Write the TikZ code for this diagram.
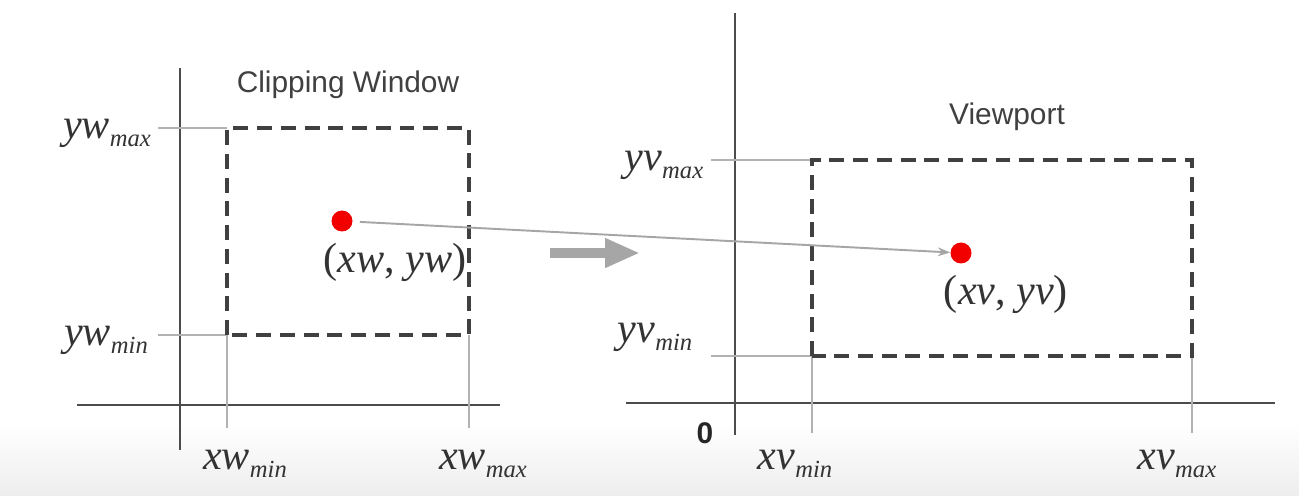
\documentclass[tikz,border=0pt]{standalone}
\usepackage{fontspec}
\setmainfont{Liberation Serif}
\newfontfamily\arialfont{Liberation Sans}
\usetikzlibrary{arrows.meta}

% italic label with a lowered subscript
\newcommand{\limlbl}[2]{\textit{#1}\raisebox{-4.5pt}{\fontsize{14}{14}\selectfont\textit{#2}}}

\tikzset{
  axis/.style={line width=1.6pt, draw=black!70},
  guide/.style={line width=0.8pt, draw=black!30},
  window/.style={line width=1.9pt, draw=black!75, dash pattern=on 8.5pt off 5pt},
  dot/.style={circle, fill=red!95!black, draw=none, inner sep=0pt, minimum size=0.42cm},
  lbl/.style={font=\fontsize{24}{24}\selectfont, text=black!80, inner sep=0pt},
  title/.style={font=\arialfont\fontsize{17}{17}\selectfont, text=black!75, inner sep=0pt}
}

\begin{document}
\begin{tikzpicture}[x=0.02cm, y=-0.02cm]
    \useasboundingbox (0,0) rectangle (1299,496);
    \shade[top color=white, bottom color=black!7] (0,425) rectangle (1299,496);

    % clipping window side
    \coordinate (wxl) at (77,405);
    \coordinate (wxr) at (500,405);
    \coordinate (wyt) at (180,68);
    \coordinate (wyb) at (180,450);
    \draw[axis] (wxl) -- (wxr);
    \draw[axis] (wyb) -- (wyt);

    \coordinate (wmin) at (227,335);
    \coordinate (wmax) at (469,128);
    \draw[guide] (158,128) -- (227,128);
    \draw[guide] (158,335) -- (wmin);
    \draw[guide] (wmin) -- (227,428);
    \draw[guide] (469,335) -- (469,428);
    \draw[window] (wmin) rectangle (wmax);

    \node[lbl] (ywmax) at (107,133) {\limlbl{yw}{max}};
    \node[lbl] (ywmin) at (106,340) {\limlbl{yw}{min}};
    \node[lbl] (xwmin) at (245,464) {\limlbl{xw}{min}};
    \node[lbl] (xwmax) at (483,464) {\limlbl{xw}{max}};
    \node[title] (cwin) at (348,85) {Clipping Window};

    \node[dot] (pw) at (342,221) {};
    \node[lbl] (pwlbl) at (395,262) {(\textit{xw}, \textit{yw})};

    % viewport side
    \coordinate (vxl) at (626,403);
    \coordinate (vxr) at (1275,403);
    \coordinate (vyt) at (735,13);
    \coordinate (vyb) at (735,435);
    \draw[axis] (vxl) -- (vxr);
    \draw[axis] (vyb) -- (vyt);

    \coordinate (vmin) at (812,356);
    \coordinate (vmax) at (1192,160);
    \draw[guide] (711,160) -- (812,160);
    \draw[guide] (711,356) -- (vmin);
    \draw[guide] (vmin) -- (812,433);
    \draw[guide] (1192,356) -- (1192,433);
    \draw[window] (vmin) rectangle (vmax);

    \node[lbl] (yvmax) at (664,165) {\limlbl{yv}{max}};
    \node[lbl] (yvmin) at (655,337) {\limlbl{yv}{min}};
    \node[lbl] (xvmin) at (795,464) {\limlbl{xv}{min}};
    \node[lbl] (xvmax) at (1177,464) {\limlbl{xv}{max}};
    \node[font=\arialfont\bfseries\fontsize{17}{17}\selectfont, text=black!85, inner sep=0pt] (zero) at (705,433) {0};
    \node[title] (vport) at (1007,117) {Viewport};

    \node[dot] (pv) at (961,253) {};
    \node[lbl] (pvlbl) at (1006,294) {(\textit{xv}, \textit{yv})};

    % mapping
    \draw[draw=black!35, line width=1.1pt, -{Stealth[length=7pt, width=5pt]}, shorten <=4pt] (pw) -- (pv);
    \coordinate (mfrom) at (550,253);
    \coordinate (mto) at (640,253);
    \draw[draw=black!35, line width=0.2cm, -{Triangle[length=0.7cm, width=0.55cm]}] (mfrom) -- (mto);
\end{tikzpicture}
\end{document}
